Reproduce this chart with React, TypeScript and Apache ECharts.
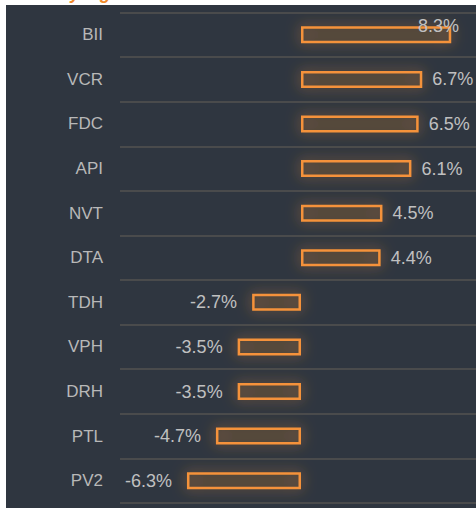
import React, { useEffect, useRef } from "react";
import * as echarts from "echarts";

const categories = ["BII", "VCR", "FDC", "API", "NVT", "DTA", "TDH", "VPH", "DRH", "PTL", "PV2"];
const values = [8.3, 6.7, 6.5, 6.1, 4.5, 4.4, -2.7, -3.5, -3.5, -4.7, -6.3];
const titleText = "Today's gainers & losers";

const ORANGE = "#f5923a";
const LABEL = "#c0c0c0";

export default function App() {
  const ref = useRef<HTMLDivElement>(null);
  useEffect(() => {
    document.body.style.overflow = "hidden";
    const chart = echarts.init(ref.current!, undefined, { renderer: "svg" });
    const data = values.map((v, i) => {
      const item: any = {
        value: v,
        label: {
          position: v >= 0 ? "right" : "left",
          distance: v >= 0 ? 10 : 15,
        },
      };
      if (i === 0) {
        item.label = { position: [158, 0], align: "right", verticalAlign: "middle" };
      }
      return item;
    });
    chart.setOption({
      animation: false,
      backgroundColor: "#2f3640",
      grid: { left: 114, top: 7.5, right: 0, bottom: 12, containLabel: false },
      xAxis: {
        type: "value",
        min: -10,
        max: 10,
        show: false,
      },
      yAxis: {
        type: "category",
        data: categories,
        inverse: true,
        axisLine: { show: false },
        axisTick: { show: false },
        axisLabel: { color: "#b8b8b8", fontSize: 17, margin: 17, fontFamily: "Liberation Sans, Arial, sans-serif" },
        splitLine: { show: true, lineStyle: { color: "#4a4b4c", width: 2 } },
      },
      series: [
        {
          type: "bar",
          data,
          barWidth: 17,
          itemStyle: {
            color: "rgba(243,146,55,0.06)",
            borderColor: ORANGE,
            borderWidth: 2.5,
            shadowBlur: 14,
            shadowColor: "rgba(243,146,55,0.7)",
          },
          label: {
            show: true,
            color: LABEL,
            fontSize: 18,
            fontFamily: "Liberation Sans, Arial, sans-serif",
            formatter: (p: any) => p.value + "%",
          },
        },
      ],
    });
    return () => chart.dispose();
  }, []);
  return (
    <div style={{ position: "fixed", left: 0, top: 0, width: 476, height: 508, overflow: "hidden", background: "#fff" }}>
      <div
        style={{
          position: "absolute",
          left: 28,
          top: -18,
          color: "#f08a2c",
          fontFamily: "Liberation Sans, Arial, sans-serif",
          fontWeight: "bold",
          fontStyle: "italic",
          fontSize: 18,
          whiteSpace: "nowrap",
          lineHeight: "22px",
        }}
      >
        {titleText}
      </div>
      <div ref={ref} style={{ position: "absolute", left: 6, top: 5, width: 476, height: 510 }} />
    </div>
  );
}
